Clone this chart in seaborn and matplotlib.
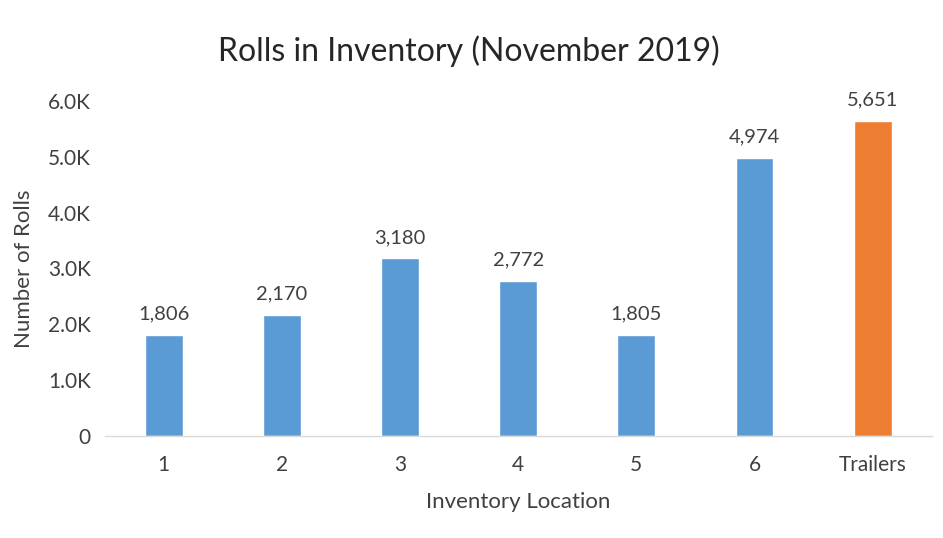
import matplotlib
matplotlib.use("Agg")
import matplotlib.pyplot as plt
import seaborn as sns
import pandas as pd
from matplotlib.ticker import FuncFormatter

locations = ["1", "2", "3", "4", "5", "6", "Trailers"]
rolls = [1806, 2170, 3180, 2772, 1805, 4974, 5651]
colors = ["#5B9BD5"] * 6 + ["#ED7D31"]
yticks = [0, 1000, 2000, 3000, 4000, 5000, 6000]

sns.set_theme(style="white")
plt.rcParams['font.family'] = ['Lato', 'DejaVu Sans']

df = pd.DataFrame({"loc": locations, "rolls": rolls})

fig = plt.figure(figsize=(9.43, 5.38), dpi=100)
ax = fig.add_axes([0.111, 0.19, 0.877, 0.622])
sns.barplot(data=df, x="loc", y="rolls", hue="loc", palette=colors, legend=False,
            width=0.32, saturation=1, ax=ax)

ax.set_xlim(-0.5, 6.5)
ax.set_ylim(0, 6000)
ax.set_yticks(yticks)
ax.yaxis.set_major_formatter(FuncFormatter(lambda v, p: "0" if v == 0 else f"{v/1000:.1f}K"))
for s in ["top", "right", "left"]:
    ax.spines[s].set_visible(False)
ax.spines["bottom"].set_color("#D9D9D9")
ax.spines["bottom"].set_linewidth(1)
ax.tick_params(axis="both", length=0, labelsize=15, colors="#404040", pad=10)
ax.tick_params(axis="x", pad=14)

for i, v in enumerate(rolls):
    ax.annotate(f"{v:,}", (i, v), xytext=(0, 9), textcoords="offset points",
                ha="center", va="bottom", fontsize=14.5, color="#404040")

ax.set_xlabel("Inventory Location", fontsize=16, color="#404040", labelpad=12)
ax.set_ylabel("Number of Rolls", fontsize=16, color="#404040", labelpad=10)
fig.suptitle("Rolls in Inventory (November 2019)", x=0.497, y=0.935, fontsize=23, color="#262626")

fig.savefig("out.png", dpi=100)
